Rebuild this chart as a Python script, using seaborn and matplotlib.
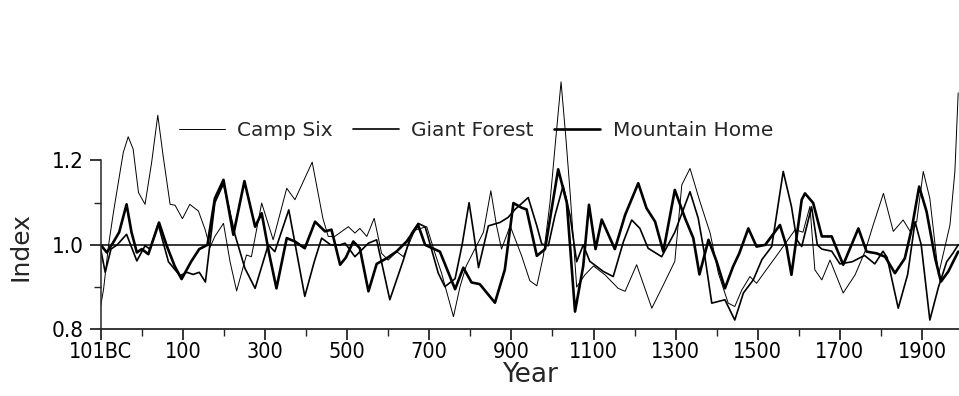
import pandas as pd
import matplotlib
matplotlib.use("Agg")
import matplotlib.pyplot as plt
import seaborn as sns
from matplotlib.ticker import FixedLocator

# Ring-width index, three sites
camp_six_years = [-100, -93, -81, -69, -57, -45, -33, -21, -8, 8, 24, 39, 52, 69, 81, 99, 117, 138, 154, 166,
                  178, 199, 215, 231, 255, 267, 292, 320, 353, 373, 415, 441, 454, 470, 503, 519, 531, 548, 566,
                  584, 600, 621, 637, 665, 694, 714, 730, 759, 775, 790, 811, 832, 850, 864, 876, 897, 925, 945,
                  962, 978, 994, 1008, 1021, 1033, 1043, 1059, 1079, 1100, 1128, 1160, 1177, 1205, 1242, 1266,
                  1298, 1315, 1335, 1359, 1384, 1404, 1428, 1444, 1461, 1481, 1497, 1520, 1550, 1591, 1610, 1627,
                  1639, 1656, 1676, 1708, 1737, 1761, 1781, 1806, 1830, 1854, 1871, 1887, 1903, 1919, 1940, 1968,
                  1980, 1988]
camp_six = [0.856, 0.895, 0.998, 1.077, 1.148, 1.219, 1.256, 1.227, 1.124, 1.096, 1.195, 1.307, 1.211, 1.096,
            1.094, 1.062, 1.096, 1.080, 1.037, 0.994, 1.02, 1.051, 0.96, 0.891, 0.976, 0.972, 1.099, 1.012, 1.134,
            1.107, 1.196, 1.063, 1.02, 1.02, 1.043, 1.028, 1.039, 1.02, 1.063, 0.98, 0.964, 0.984, 0.972, 1.035,
            1.043, 0.98, 0.933, 0.830, 0.901, 0.95, 0.99, 1.03, 1.128, 1.045, 0.99, 1.045, 0.974, 0.915, 0.903,
            0.974, 1.10, 1.25, 1.386, 1.25, 1.124, 0.90, 0.929, 0.95, 0.929, 0.897, 0.89, 0.953, 0.85, 0.897,
            0.961, 1.142, 1.181, 1.103, 1.028, 0.933, 0.862, 0.854, 0.893, 0.925, 0.909, 0.94, 0.98, 1.036, 1.03,
            1.091, 0.941, 0.917, 0.964, 0.886, 0.929, 0.984, 1.047, 1.122, 1.032, 1.059, 1.032, 1.055, 1.174,
            1.11, 0.929, 1.047, 1.174, 1.36]

giant_forest_years = [-100, -89, -75, -60, -37, -12, 8, 20, 40, 65, 93, 110, 125, 140, 155, 178, 199, 227, 251,
                      276, 308, 324, 358, 397, 420, 438, 460, 483, 495, 519, 552, 572, 604, 637, 657, 673, 690,
                      706, 722, 738, 763, 780, 797, 808, 820, 844, 872, 892, 909, 941, 962, 974, 990, 1006, 1026,
                      1043, 1059, 1075, 1091, 1124, 1148, 1173, 1193, 1213, 1233, 1266, 1298, 1335, 1355, 1370,
                      1388, 1420, 1444, 1465, 1489, 1510, 1534, 1562, 1582, 1595, 1607, 1631, 1645, 1656, 1680,
                      1700, 1730, 1760, 1785, 1805, 1815, 1842, 1865, 1883, 1898, 1919, 1940, 1960, 1975, 1988]
giant_forest = [0.99, 0.935, 0.99, 1.0, 1.025, 0.962, 0.998, 0.99, 1.049, 0.96, 0.927, 0.935, 0.93, 0.935, 0.912,
                1.10, 1.145, 1.024, 0.945, 0.897, 1.0, 0.984, 1.083, 0.878, 0.96, 1.016, 1.0, 1.0, 1.004, 0.972,
                1.004, 1.012, 0.870, 0.964, 1.028, 1.051, 1.043, 0.988, 0.933, 0.901, 0.92, 1.0, 1.10, 1.03, 0.946,
                1.045, 1.053, 1.065, 1.084, 1.112, 1.045, 1.002, 0.998, 1.069, 1.14, 1.069, 0.96, 1.0, 0.961,
                0.937, 0.925, 1.008, 1.059, 1.039, 0.992, 0.972, 1.03, 1.126, 1.063, 0.98, 0.862, 0.87, 0.822,
                0.886, 0.917, 0.965, 0.996, 1.174, 1.091, 1.012, 0.996, 1.09, 1.0, 0.99, 0.985, 0.955, 0.96,
                0.975, 0.955, 0.985, 0.97, 0.85, 0.93, 1.055, 1.0, 0.822, 0.90, 0.96, 0.98, 1.0]

mountain_home_years = [-100, -85, -70, -55, -37, -25, -12, 0, 16, 42, 60, 80, 97, 120, 140, 160, 178, 199, 223,
                       250, 276, 292, 310, 328, 353, 373, 397, 422, 446, 462, 483, 497, 515, 531, 552, 572, 596,
                       620, 645, 673, 690, 726, 763, 783, 803, 823, 860, 884, 905, 925, 937, 962, 982, 1014, 1035,
                       1055, 1075, 1089, 1105, 1120, 1152, 1177, 1209, 1229, 1250, 1270, 1298, 1323, 1343, 1358,
                       1380, 1400, 1420, 1440, 1455, 1477, 1497, 1518, 1554, 1570, 1582, 1607, 1615, 1635, 1656,
                       1680, 1708, 1745, 1765, 1789, 1810, 1834, 1858, 1875, 1893, 1911, 1932, 1946, 1964, 1988]
mountain_home = [1.0, 0.982, 1.005, 1.03, 1.096, 1.03, 0.982, 0.99, 0.978, 1.053, 1.0, 0.95, 0.919, 0.96, 0.99,
                 1.0, 1.11, 1.154, 1.024, 1.151, 1.043, 1.075, 0.98, 0.897, 1.016, 1.008, 0.992, 1.055, 1.032,
                 1.036, 0.953, 0.97, 1.008, 0.992, 0.890, 0.955, 0.968, 0.984, 1.008, 1.047, 1.0, 0.984, 0.895,
                 0.946, 0.911, 0.907, 0.863, 0.941, 1.099, 1.088, 1.084, 0.974, 0.990, 1.179, 1.10, 0.842, 0.95,
                 1.095, 0.99, 1.06, 0.99, 1.071, 1.146, 1.087, 1.055, 0.984, 1.130, 1.063, 1.016, 0.93, 1.012,
                 0.96, 0.897, 0.949, 0.98, 1.039, 0.996, 1.0, 1.047, 0.996, 0.929, 1.107, 1.122, 1.099, 1.02,
                 1.02, 0.953, 1.039, 0.984, 0.98, 0.972, 0.933, 0.968, 1.039, 1.138, 1.079, 0.968, 0.913, 0.937,
                 0.984]

x_tick_pos = [-100, 100, 300, 500, 700, 900, 1100, 1300, 1500, 1700, 1900]
x_tick_labels = ["101BC", "100", "300", "500", "700", "900", "1100", "1300", "1500", "1700", "1900"]

sns.set_style("ticks")
plt.rcParams["font.family"] = ["DejaVu Sans"]

fig = plt.figure(figsize=(9.59, 3.96), dpi=100)
ax = fig.add_axes([0.105, 0.1684, 0.895, 0.8316])

line_kw = dict(ax=ax, color="black", estimator=None, sort=False,
               solid_joinstyle="round", solid_capstyle="round")
sns.lineplot(x=camp_six_years, y=camp_six, lw=0.7, label="Camp Six", **line_kw)
sns.lineplot(x=giant_forest_years, y=giant_forest, lw=1.2, label="Giant Forest", **line_kw)
sns.lineplot(x=mountain_home_years, y=mountain_home, lw=1.9, label="Mountain Home", **line_kw)
ax.axhline(1.0, color="black", lw=1.1)

ax.set_xlim(-100, 1990)
ax.set_ylim(0.8, 1.58)
ax.xaxis.set_major_locator(FixedLocator(x_tick_pos))
ax.set_xticklabels(x_tick_labels, fontsize=15.5, fontstretch="condensed")
ax.xaxis.set_minor_locator(FixedLocator(list(range(0, 2000, 200))))
ax.yaxis.set_major_locator(FixedLocator([0.8, 1.0, 1.2]))
ax.yaxis.set_minor_locator(FixedLocator([0.9, 1.1]))
ax.set_yticklabels(["0.8", "1.0", "1.2"], fontsize=16, fontstretch="condensed")

for s in ["top", "right"]:
    ax.spines[s].set_visible(False)
ax.spines["left"].set_bounds(0.8, 1.2)
ax.spines["left"].set_linewidth(1.1)
ax.spines["bottom"].set_linewidth(1.3)
ax.tick_params(which="major", direction="out", length=8, width=1.1, colors="black")
ax.tick_params(which="minor", direction="out", length=5, width=1.0)
ax.tick_params(axis="x", pad=1)
ax.tick_params(axis="y", pad=4)

ax.set_xlabel("Year", fontsize=19, labelpad=0)
ax.set_ylabel("Index", fontsize=18)
ax.yaxis.set_label_coords(-0.08, 0.25)

ax.legend(loc="center left", bbox_to_anchor=(0.07, 0.605), ncol=3, frameon=False, fontsize=14.5,
          handlelength=2.3, columnspacing=1.0, handletextpad=0.6)

fig.savefig("out.png", dpi=100)
